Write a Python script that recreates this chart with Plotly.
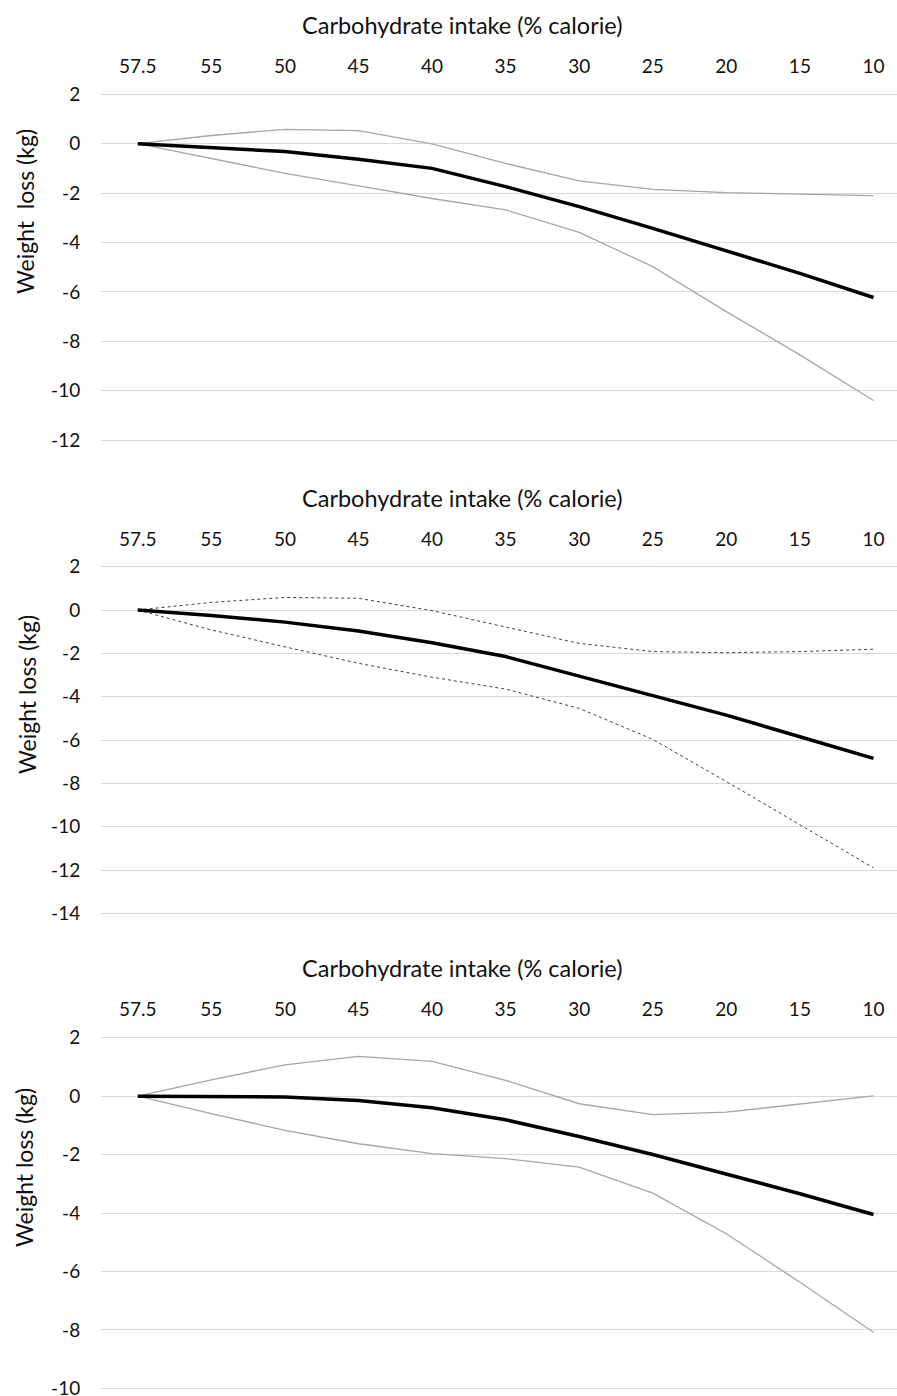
import plotly.graph_objects as go

W, H = 897, 1396

categories = ["57.5", "55", "50", "45", "40", "35", "30", "25", "20", "15", "10"]

# Panel 1
p1_mean = [0, -0.15, -0.32, -0.63, -1.0, -1.74, -2.55, -3.43, -4.33, -5.25, -6.23]
p1_upper = [0, 0.33, 0.58, 0.53, -0.01, -0.8, -1.51, -1.85, -1.98, -2.03, -2.1]
p1_lower = [0, -0.6, -1.2, -1.71, -2.22, -2.68, -3.59, -4.98, -6.8, -8.55, -10.4]
p1_ticks = [2, 0, -2, -4, -6, -8, -10, -12]

# Panel 2
p2_mean = [0, -0.25, -0.56, -0.97, -1.51, -2.15, -3.05, -3.97, -4.85, -5.85, -6.85]
p2_upper = [0, 0.35, 0.58, 0.54, -0.03, -0.77, -1.54, -1.92, -1.97, -1.92, -1.81]
p2_lower = [0, -0.92, -1.7, -2.46, -3.1, -3.65, -4.54, -5.97, -7.92, -9.92, -11.9]
p2_ticks = [2, 0, -2, -4, -6, -8, -10, -12, -14]

# Panel 3
p3_mean = [0, 0, -0.03, -0.15, -0.4, -0.81, -1.38, -2.0, -2.66, -3.34, -4.05]
p3_upper = [0, 0.56, 1.07, 1.36, 1.19, 0.54, -0.26, -0.63, -0.55, -0.28, 0.01]
p3_lower = [0, -0.6, -1.17, -1.63, -1.97, -2.14, -2.43, -3.32, -4.71, -6.37, -8.08]
p3_ticks = [2, 0, -2, -4, -6, -8, -10]

x_title = "Carbohydrate intake (% calorie)"
y_titles = ["Weight  loss (kg)", "Weight loss (kg)", "Weight loss (kg)"]

FONT = "Lato"
TXT = "#111111"
GRID = "#d9d9d9"
GRAY = "#a6a6a6"

panels = [
    dict(mean=p1_mean, up=p1_upper, lo=p1_lower, ticks=p1_ticks, rng=[-12.1, 2.1],
         top=91.8, bot=442.5, title_y=25, ytitle_y=212, ytitle_x=25, ci_style="solid"),
    dict(mean=p2_mean, up=p2_upper, lo=p2_lower, ticks=p2_ticks, rng=[-14.1, 2.1],
         top=564.5, bot=915.5, title_y=498, ytitle_y=695, ytitle_x=27, ci_style="dot"),
    dict(mean=p3_mean, up=p3_upper, lo=p3_lower, ticks=p3_ticks, rng=[-10.1, 2.1],
         top=1034.8, bot=1391.2, title_y=968, ytitle_y=1168, ytitle_x=24, ci_style="solid"),
]

fig = go.Figure()
annotations = []
x_left = 101 / W

for i, p in enumerate(panels, start=1):
    xa = "x" if i == 1 else f"x{i}"
    ya = "y" if i == 1 else f"y{i}"
    if p["ci_style"] == "dot":
        ci_line = dict(color="#404040", width=1, dash="dot")
    else:
        ci_line = dict(color=GRAY, width=1.3)
    fig.add_trace(go.Scatter(x=categories, y=p["up"], mode="lines", line=ci_line,
                             xaxis=xa, yaxis=ya, showlegend=False))
    fig.add_trace(go.Scatter(x=categories, y=p["lo"], mode="lines", line=ci_line,
                             xaxis=xa, yaxis=ya, showlegend=False))
    fig.add_trace(go.Scatter(x=categories, y=p["mean"], mode="lines",
                             line=dict(color="black", width=3.5),
                             xaxis=xa, yaxis=ya, showlegend=False))

    dom = [1 - p["bot"] / H, 1 - p["top"] / H]
    xkey = "xaxis" if i == 1 else f"xaxis{i}"
    ykey = "yaxis" if i == 1 else f"yaxis{i}"
    fig.update_layout(**{
        xkey: dict(domain=[x_left, 1], anchor=ya, side="top", type="category",
                   categoryorder="array", categoryarray=categories,
                   range=[-0.5, 10.32], showgrid=False, zeroline=False,
                   showline=False, ticks="outside", ticklen=10,
                   tickcolor="rgba(0,0,0,0)", automargin=False,
                   ticklabeloverflow="allow",
                   tickfont=dict(family=FONT, size=19, color=TXT),
                   fixedrange=True),
        ykey: dict(domain=dom, anchor=xa, range=p["rng"],
                   tickmode="array", tickvals=p["ticks"],
                   ticktext=[str(t) for t in p["ticks"]],
                   showgrid=True, gridcolor=GRID, gridwidth=1.2, zeroline=False,
                   showline=False, ticks="outside", ticklen=16,
                   tickcolor="rgba(0,0,0,0)", automargin=False,
                   ticklabeloverflow="allow",
                   tickfont=dict(family=FONT, size=19, color=TXT),
                   fixedrange=True),
    })
    annotations.append(dict(text=x_title, xref="paper", yref="paper",
                            x=462 / W, y=1 - p["title_y"] / H,
                            xanchor="center", yanchor="middle", showarrow=False,
                            font=dict(family=FONT, size=23.5, color=TXT)))
    annotations.append(dict(text=y_titles[i - 1], xref="paper", yref="paper",
                            x=p["ytitle_x"] / W, y=1 - p["ytitle_y"] / H,
                            xanchor="center", yanchor="middle", showarrow=False,
                            textangle=-90,
                            font=dict(family=FONT, size=23, color=TXT)))

fig.update_layout(width=W, height=H, margin=dict(l=0, r=0, t=0, b=0, autoexpand=False),
                  paper_bgcolor="white", plot_bgcolor="white",
                  annotations=annotations)

post = (
    "document.documentElement.style.margin='0';"
    "document.body.style.margin='0';"
    "document.body.style.overflow='hidden';"
    "var gd=document.getElementsByClassName('plotly-graph-div')[0];"
    "gd.style.position='fixed';gd.style.top='0px';gd.style.left='0px';"
)
fig.write_html("out.html", config={"displayModeBar": False}, post_script=post)
